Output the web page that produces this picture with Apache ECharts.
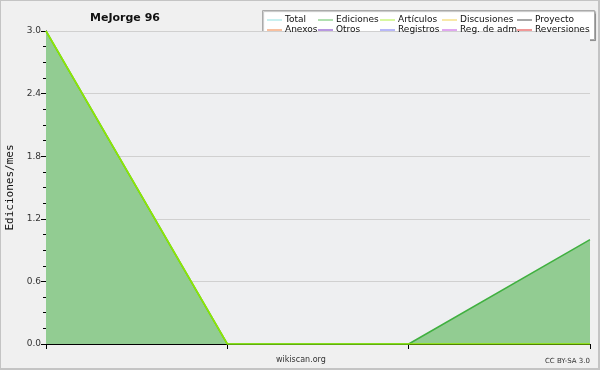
<!DOCTYPE html>
<html><head><meta charset="utf-8">
<script src="https://cdn.jsdelivr.net/npm/echarts@6/dist/echarts.min.js"></script>
<style>html,body{margin:0;padding:0;background:#f0f0f0}#c{width:600px;height:370px;box-sizing:border-box;border:1px solid #c4c4c4;border-right-width:2px;border-bottom-width:2px}</style>
</head><body><div id="c"></div>
<script>
const categories = ['1', '2', '3', '4'];
const totalValues = [3, 0, 0, 1];
const edicionesValues = [3, 0, 0, 1];
const articulosValues = [3, 0, 0, 0];
const yTicks = [0, 0.6, 1.2, 1.8, 2.4, 3.0];
const legendNames = ['Total','Ediciones','Artículos','Discusiones','Proyecto','Anexos','Otros','Registros','Reg. de adm.','Reversiones'];
const legendColors = ['#90e0e0','#60c060','#b0f040','#f0d050','#505050','#f08040','#7030c0','#7070f0','#c050e0','#e03030'];

const chart = echarts.init(document.getElementById('c'), null, {renderer:'canvas'});
const colX = [266, 317, 379, 441, 516];
const legends = colX.map((x, i) => ({
  orient: 'vertical', left: x, top: 14, itemGap: 0,
  itemWidth: 15, itemHeight: 1, icon: 'rect',
  data: [legendNames[i], legendNames[i+5]],
  textStyle: {fontFamily: 'DejaVu Sans', fontSize: 9, color: '#111', lineHeight: 10, padding: [0,0,0,-2]},
  padding: 0
}));
const series = legendNames.map((n, i) => {
  const s = {name: n, type: 'line', symbol: 'none', color: legendColors[i], data: [], lineStyle:{width:1}, silent:true, animation:false};
  return s;
});
series[0].data = totalValues;
series[0].lineStyle = {width: 0};
series[0].areaStyle = {color: '#92cc92', opacity: 1};
series[1].data = edicionesValues;
series[1].lineStyle = {width: 1.5, color: '#40b040'};
series[1].z = 3;
series[2].data = articulosValues;
series[2].lineStyle = {width: 1.5, color: '#90e800'};
series[2].z = 4;

chart.setOption({
  animation: false,
  backgroundColor: '#f0f0f0',
  title: {text: 'MeJorge 96', left: 84, top: 7, textStyle: {fontFamily: 'DejaVu Sans', fontSize: 11, fontWeight: 'bold', color: '#111'}},
  graphic: [
    {type: 'rect', left: 261, top: 9, shape: {width: 332, height: 29}, style: {fill: '#ffffff', stroke: '#aaaaaa', lineWidth: 1, shadowColor:'rgba(0,0,0,0.25)', shadowOffsetX:1, shadowOffsetY:1, shadowBlur:1}, z: -1},
    {type: 'text', left: 275, top: 355, style: {text: 'wikiscan.org', fontFamily: 'DejaVu Sans', fontSize: 8, fill: '#333'}},
    {type: 'text', right: 8, top: 357, style: {text: 'CC BY-SA 3.0', fontFamily: 'DejaVu Sans', fontSize: 7, fill: '#333'}}
  ],
  legend: legends,
  grid: {left: 45, right: 8, top: 30, bottom: 24, show: true, backgroundColor: '#eeeff1', borderWidth: 0, outerBoundsMode: 'none', containLabel: false},
  xAxis: {
    type: 'category', data: categories, boundaryGap: false,
    axisLine: {lineStyle: {color: '#000', width: 1}},
    axisTick: {show: true, length: 5, lineStyle: {color: '#000'}},
    axisLabel: {show: false}, splitLine: {show: false}
  },
  yAxis: {
    type: 'value', min: 0, max: 3, interval: 0.6,
    name: 'Ediciones/mes', nameLocation: 'middle', nameGap: 30, nameRotate: 90,
    nameTextStyle: {fontFamily: 'DejaVu Sans Mono', fontSize: 11, color: '#111'},
    axisLine: {show: true, lineStyle: {color: '#000'}},
    axisTick: {show: true, length: 5, inside: false, lineStyle: {color: '#000'}},
    minorTick: {show: true, splitNumber: 4, length: 3, lineStyle: {color: '#000'}},
    axisLabel: {fontFamily: 'DejaVu Sans', fontSize: 9, color: '#333', margin: 5, formatter: v => yTicks.includes(+v.toFixed(1)) ? v.toFixed(1) : ''},
    splitLine: {show: true, lineStyle: {color: '#d0d0d0', width: 1}}
  },
  series: series
});
</script></body></html>
